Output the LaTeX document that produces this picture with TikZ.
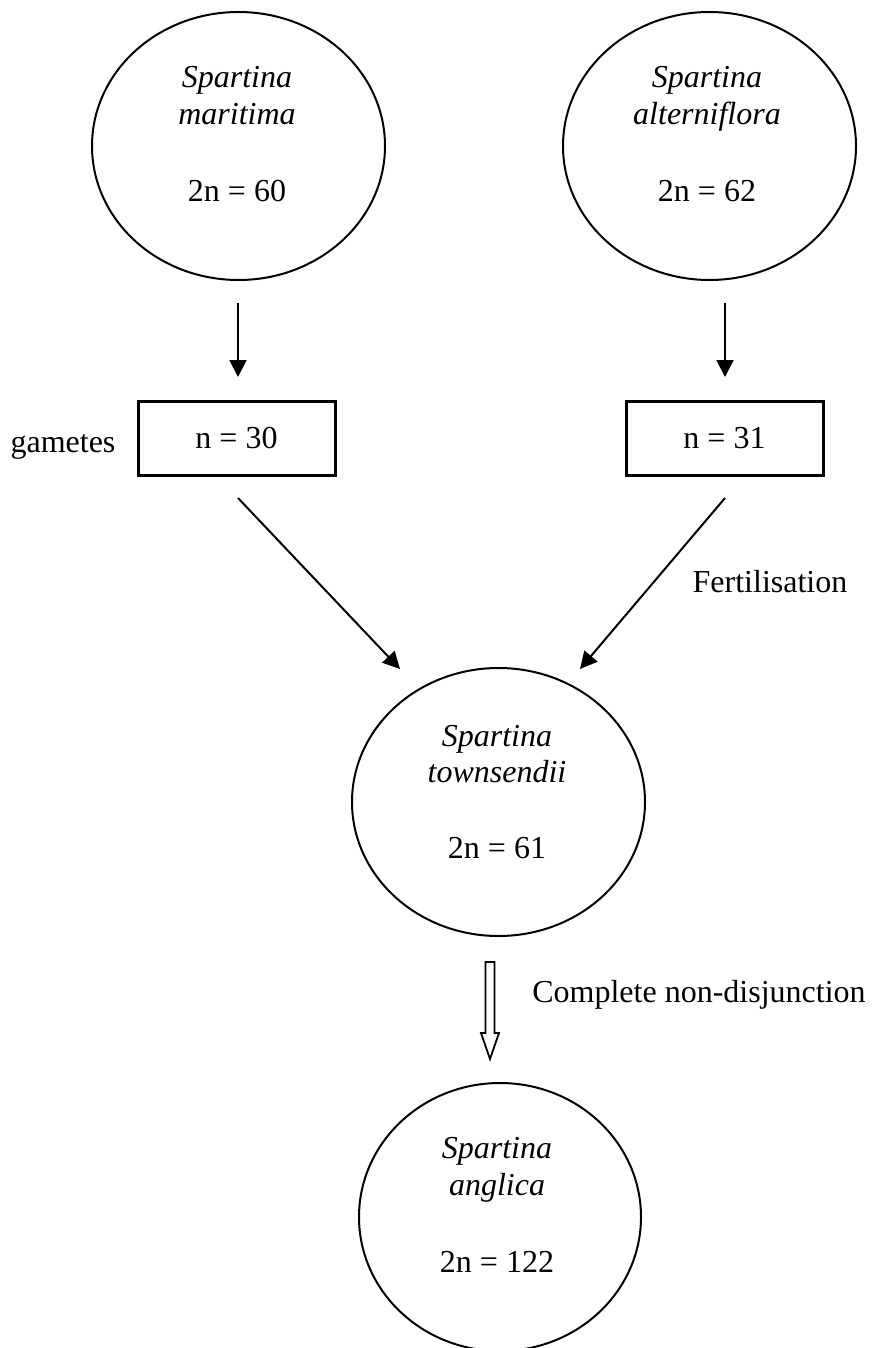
\documentclass[tikz,border=0pt]{standalone}
\usepackage{fontspec}
\setmainfont{Liberation Serif}
\usetikzlibrary{arrows.meta,calc,shapes.geometric}
\begin{document}
\begin{tikzpicture}[x=1pt,y=-1pt,
  every node/.style={font=\fontsize{32}{38}\selectfont},
  ell/.style={draw,line width=2pt,ellipse,minimum width=293pt,minimum height=268pt,inner sep=0pt},
  gambox/.style={draw,line width=3pt,rectangle,minimum width=197pt,minimum height=74pt,inner sep=0pt},
  txt/.style={anchor=base,inner sep=0pt},
  arr/.style={line width=2pt,-{Triangle[length=17pt,width=17pt]}},
  hollow/.style={draw,line width=1.8pt,fill=white,line join=miter}]
\useasboundingbox (0,0) rectangle (873,1348);
% ellipses
\node[ell] (e1) at (238.5,146) {};
\node[ell] (e2) at (709.5,146) {};
\node[ell] (e3) at (498.5,802) {};
\node[ell,minimum width=282pt] (e4) at (500,1217) {};
% ellipse texts
\node[txt] (t1a) at (237,88) {\itshape Spartina};
\node[txt] (t1b) at (237,125) {\itshape maritima};
\node[txt] (t1c) at (237,202) {2n = 60};
\node[txt] (t2a) at (707,88) {\itshape Spartina};
\node[txt] (t2b) at (707,125) {\itshape alterniflora};
\node[txt] (t2c) at (707,202) {2n = 62};
\node[txt] (t3a) at (497,746) {\itshape Spartina};
\node[txt] (t3b) at (497,782) {\itshape townsendii};
\node[txt] (t3c) at (497,858) {2n = 61};
\node[txt] (t4a) at (497,1158) {\itshape Spartina};
\node[txt] (t4b) at (497,1195) {\itshape anglica};
\node[txt] (t4c) at (497,1272) {2n = 122};
% gamete boxes
\node[gambox] (b1) at (236.5,438) {n = 30};
\node[gambox] (b2) at (724.5,438) {n = 31};
\node[txt] (gam) at (63,452) {gametes};
% labels
\node[txt] (fert) at (770,592) {Fertilisation};
\node[txt] (cnd) at (699,1002) {Complete non-disjunction};
% connector end points
\coordinate (a1s) at (238,303);
\coordinate (a1e) at (238,377);
\coordinate (a2s) at (725,303);
\coordinate (a2e) at (725,377);
\coordinate (d1s) at (238,498);
\coordinate (d1e) at (400,669);
\coordinate (d2s) at (725,498);
\coordinate (d2e) at (580,669);
\coordinate (hs) at (490,962);
\coordinate (he) at (490,1059);
% arrows
\draw[arr] (a1s) -- (a1e);
\draw[arr] (a2s) -- (a2e);
\draw[arr] (d1s) -- (d1e);
\draw[arr] (d2s) -- (d2e);
% hollow arrow
\path[hollow] ($(hs)+(-4.5,0)$) -- ($(hs)+(4.5,0)$) -- ($(he)+(4.5,-26)$) -- ($(he)+(9,-26)$)
  -- (he) -- ($(he)+(-9,-26)$) -- ($(he)+(-4.5,-26)$) -- cycle;
\end{tikzpicture}
\end{document}
